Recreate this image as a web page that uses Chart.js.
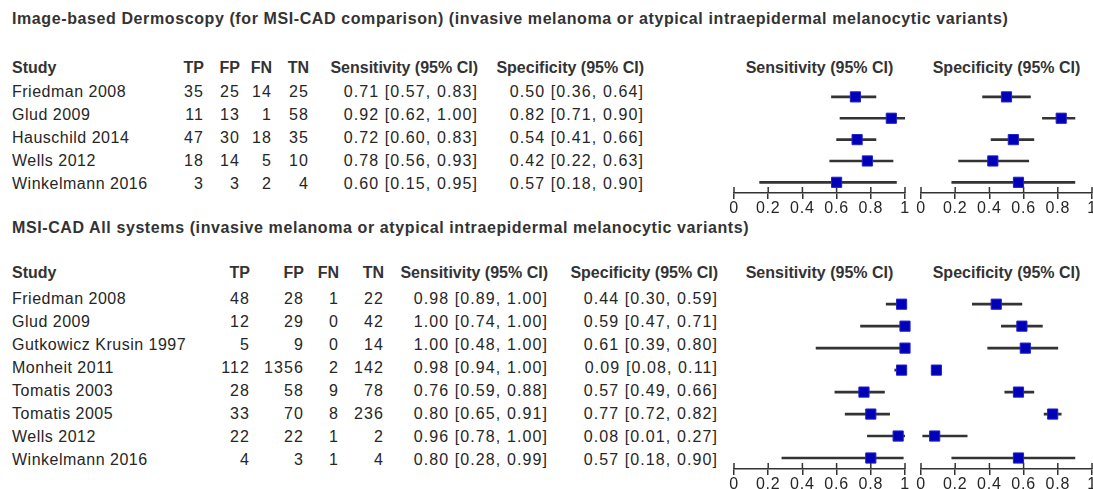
<!DOCTYPE html>
<html>
<head>
<meta charset="utf-8">
<script src="https://cdn.jsdelivr.net/npm/chart.js@4.4.0/dist/chart.umd.min.js"></script>
<style>
  html, body { margin:0; padding:0; background:#fff; width:1093px; height:489px; overflow:hidden; }
  #page { position:relative; width:1093px; height:489px; }
  .t { position:absolute; white-space:nowrap; line-height:20px; height:20px; color:#262626;
       font-family:'Liberation Sans', Arial, sans-serif; font-size:16px; letter-spacing:0.5px; }
  .n { letter-spacing:1.1px; }
  .b { font-weight:bold; letter-spacing:0; color:#333; }
  .ti { letter-spacing:0.6px; }
  canvas { position:absolute; }
</style>
</head>
<body>
<div id="page"></div>
<script>
// ---------------- DATA ----------------
const titleA = 'Image-based Dermoscopy (for MSI-CAD comparison) (invasive melanoma or atypical intraepidermal melanocytic variants)';
const studiesA = ['Friedman 2008','Glud 2009','Hauschild 2014','Wells 2012','Winkelmann 2016'];
const tpA = [35, 11, 47, 18, 3];
const fpA = [25, 13, 30, 14, 3];
const fnA = [14, 1, 18, 5, 2];
const tnA = [25, 58, 35, 10, 4];
const sensA   = [0.71, 0.92, 0.72, 0.78, 0.60];
const sensLoA = [0.57, 0.62, 0.60, 0.56, 0.15];
const sensHiA = [0.83, 1.00, 0.83, 0.93, 0.95];
const specA   = [0.50, 0.82, 0.54, 0.42, 0.57];
const specLoA = [0.36, 0.71, 0.41, 0.22, 0.18];
const specHiA = [0.64, 0.90, 0.66, 0.63, 0.90];

const titleB = 'MSI-CAD All systems (invasive melanoma or atypical intraepidermal melanocytic variants)';
const studiesB = ['Friedman 2008','Glud 2009','Gutkowicz Krusin 1997','Monheit 2011','Tomatis 2003','Tomatis 2005','Wells 2012','Winkelmann 2016'];
const tpB = [48, 12, 5, 112, 28, 33, 22, 4];
const fpB = [28, 29, 9, 1356, 58, 70, 22, 3];
const fnB = [1, 0, 0, 2, 9, 8, 1, 1];
const tnB = [22, 42, 14, 142, 78, 236, 2, 4];
const sensB   = [0.98, 1.00, 1.00, 0.98, 0.76, 0.80, 0.96, 0.80];
const sensLoB = [0.89, 0.74, 0.48, 0.94, 0.59, 0.65, 0.78, 0.28];
const sensHiB = [1.00, 1.00, 1.00, 1.00, 0.88, 0.91, 1.00, 0.99];
const specB   = [0.44, 0.59, 0.61, 0.09, 0.57, 0.77, 0.08, 0.57];
const specLoB = [0.30, 0.47, 0.39, 0.08, 0.49, 0.72, 0.01, 0.18];
const specHiB = [0.59, 0.71, 0.80, 0.11, 0.66, 0.82, 0.27, 0.90];

const headers = ['Study','TP','FP','FN','TN','Sensitivity (95% CI)','Specificity (95% CI)'];
const xTickValues = [0, 0.2, 0.4, 0.6, 0.8, 1];
const xTickLabels = ['0', '0.2', '0.4', '0.6', '0.8', '1'];

// ---------------- LAYOUT ----------------
const ROW = 23;
const page = document.getElementById('page');
function txt(s, x, y, align, cls) {
  const d = document.createElement('div');
  d.className = 't ' + (cls || '');
  d.textContent = s;
  d.style.top = (y - 10) + 'px';
  if (align === 'right') { d.style.left = (x - 400) + 'px'; d.style.width = '400px'; d.style.textAlign = 'right'; }
  else if (align === 'center') { d.style.left = (x - 200) + 'px'; d.style.width = '400px'; d.style.textAlign = 'center'; }
  else { d.style.left = x + 'px'; }
  page.appendChild(d);
}
const fmt = (v, lo, hi) => `${v.toFixed(2)} [${lo.toFixed(2)}, ${hi.toFixed(2)}]`;

const upTicks = {
  id: 'upTicks',
  beforeDraw(chart) { chart.ctx.letterSpacing = '0.8px'; },
  afterDraw(chart) {
    const s = chart.scales.x, ctx = chart.ctx, y = chart.chartArea.bottom;
    ctx.save();
    ctx.strokeStyle = '#333'; ctx.lineWidth = 1.5;
    s.ticks.forEach(t => {
      const x = s.getPixelForValue(t.value);
      ctx.beginPath(); ctx.moveTo(x, y - 6); ctx.lineTo(x, y); ctx.stroke();
    });
    ctx.restore();
  }
};

function forest(left, top, plotH, labels, est, lo, hi) {
  const PADX = 12, AXH = 22;
  const c = document.createElement('canvas');
  const w = 171 + 2 * PADX, h = plotH + AXH;
  c.width = w; c.height = h;
  c.style.left = (left - PADX) + 'px'; c.style.top = top + 'px';
  c.style.width = w + 'px'; c.style.height = h + 'px';
  page.appendChild(c);
  new Chart(c, {
    type: 'bar',
    data: {
      labels: labels,
      datasets: [
        { type: 'scatter', data: est.map((v, i) => ({ x: v, y: labels[i] })),
          pointStyle: 'rect', pointRadius: 7.2, pointHoverRadius: 7.2,
          backgroundColor: '#0000b8', borderColor: '#2323cc', borderWidth: 1, clip: false, order: 0 },
        { type: 'bar', data: lo.map((l, i) => [l, hi[i]]),
          backgroundColor: '#333', borderWidth: 0, barThickness: 2, order: 1 }
      ]
    },
    options: {
      indexAxis: 'y', responsive: false, animation: false, events: [], devicePixelRatio: 1,
      plugins: { legend: { display: false }, tooltip: { enabled: false } },
      layout: { padding: { left: PADX, right: PADX, top: 0, bottom: 0 } },
      scales: {
        x: {
          type: 'linear', min: 0, max: 1,
          afterBuildTicks: s => { s.ticks = xTickValues.map(v => ({ value: v })); },
          afterFit: s => { s.height = AXH; },
          grid: { drawOnChartArea: false, drawTicks: true, tickLength: 6, color: '#333', lineWidth: 1.5 },
          border: { display: true, color: '#333', width: 1.5 },
          ticks: { padding: 0, color: '#262626', autoSkip: false, maxRotation: 0,
                   font: { family: "'Liberation Sans', Arial, sans-serif", size: 16 },
                   callback: (v, i) => xTickLabels[i] }
        },
        y: { type: 'category', display: false, offset: true }
      }
    },
    plugins: [upTicks]
  });
}

function section(cfg) {
  txt(cfg.title, 12, cfg.titleY, 'left', 'b ti');
  const hy = cfg.headY;
  txt(headers[0], 12, hy, 'left', 'b');
  cfg.cols.forEach((x, k) => txt(headers[k + 1], x, hy, 'right', 'b'));
  txt(headers[5], 734 + 171 / 2, hy, 'center', 'b');
  txt(headers[6], 921 + 171 / 2, hy, 'center', 'b');
  cfg.studies.forEach((s, i) => {
    const y = cfg.plotTop + ROW * (i + 0.5) + 2;
    txt(s, 12, y, 'left', '');
    txt(String(cfg.tp[i]), cfg.cols[0], y, 'right', 'n');
    txt(String(cfg.fp[i]), cfg.cols[1], y, 'right', 'n');
    txt(String(cfg.fn[i]), cfg.cols[2], y, 'right', 'n');
    txt(String(cfg.tn[i]), cfg.cols[3], y, 'right', 'n');
    txt(fmt(cfg.sens[i], cfg.sensLo[i], cfg.sensHi[i]), cfg.cols[4], y, 'right', 'n');
    txt(fmt(cfg.spec[i], cfg.specLo[i], cfg.specHi[i]), cfg.cols[5], y, 'right', 'n');
  });
  const plotH = ROW * cfg.studies.length;
  forest(734, cfg.plotTop, plotH, cfg.studies, cfg.sens, cfg.sensLo, cfg.sensHi);
  forest(921, cfg.plotTop, plotH, cfg.studies, cfg.spec, cfg.specLo, cfg.specHi);
}

section({ title: titleA, titleY: 19, headY: 68, plotTop: 78, cols: [204, 240, 272, 309, 478, 644],
  studies: studiesA, tp: tpA, fp: fpA, fn: fnA, tn: tnA,
  sens: sensA, sensLo: sensLoA, sensHi: sensHiA, spec: specA, specLo: specLoA, specHi: specHiA });
section({ title: titleB, titleY: 228, headY: 273, plotTop: 285, cols: [250, 304, 339, 384, 548, 718],
  studies: studiesB, tp: tpB, fp: fpB, fn: fnB, tn: tnB,
  sens: sensB, sensLo: sensLoB, sensHi: sensHiB, spec: specB, specLo: specLoB, specHi: specHiB });
</script>
</body>
</html>
